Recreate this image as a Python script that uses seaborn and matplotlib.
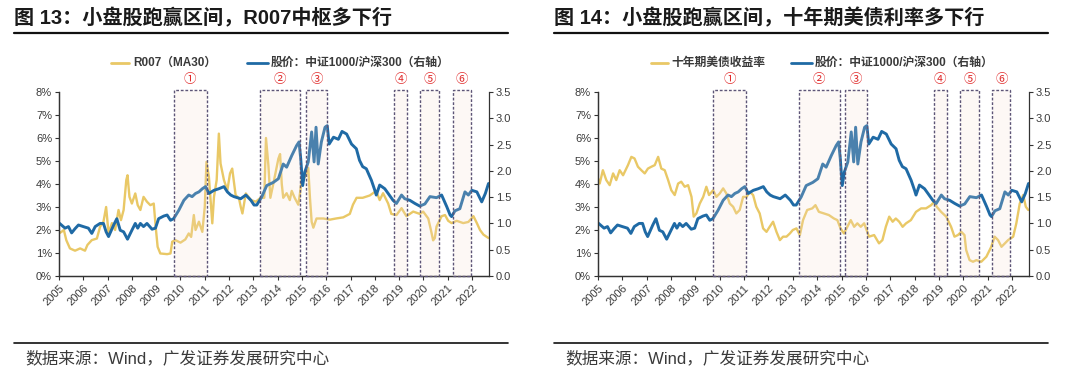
import numpy as np
import pandas as pd
import matplotlib
matplotlib.use("Agg")
import matplotlib.pyplot as plt
import seaborn as sns
from matplotlib.patches import Rectangle
from matplotlib.lines import Line2D

# ---------------- data ----------------
blue_years = [2005.00, 2005.10, 2005.25, 2005.39, 2005.52, 2005.66, 2005.80, 2006.00, 2006.21, 2006.35,
              2006.49, 2006.69, 2006.83, 2006.94, 2007.04, 2007.25, 2007.38, 2007.52, 2007.66, 2007.82,
              2008.00, 2008.14, 2008.24, 2008.35, 2008.48, 2008.62, 2008.83, 2008.97, 2009.10, 2009.31,
              2009.45, 2009.59, 2009.72, 2009.93, 2010.14, 2010.34, 2010.48, 2010.62, 2010.76, 2010.90,
              2011.03, 2011.17, 2011.38, 2011.58, 2011.79, 2011.93, 2012.07, 2012.20, 2012.48, 2012.69,
              2012.90, 2013.03, 2013.14, 2013.34, 2013.55, 2013.82, 2014.03, 2014.23, 2014.37, 2014.58,
              2014.78, 2014.88, 2014.95, 2015.03, 2015.12, 2015.26, 2015.40, 2015.50, 2015.58, 2015.67,
              2015.80, 2015.95, 2016.04, 2016.12, 2016.30, 2016.50, 2016.65, 2016.84, 2017.04, 2017.24,
              2017.37, 2017.50, 2017.65, 2017.86, 2018.00, 2018.06, 2018.20, 2018.41, 2018.55, 2018.75,
              2018.89, 2019.10, 2019.23, 2019.44, 2019.65, 2019.85, 2020.06, 2020.27, 2020.54, 2020.75,
              2020.96, 2021.10, 2021.16, 2021.30, 2021.50, 2021.71, 2021.85, 2021.99, 2022.20, 2022.40,
              2022.55, 2022.68]
blue_ratio = [1.01, 0.97, 0.91, 0.94, 0.82, 0.90, 0.97, 0.94, 0.91, 0.81,
              0.94, 1.00, 1.00, 0.84, 0.75, 0.97, 1.09, 0.87, 0.84, 0.70,
              0.87, 1.00, 0.91, 1.00, 0.94, 1.00, 0.89, 0.91, 1.09, 1.14,
              1.16, 1.06, 1.09, 1.25, 1.44, 1.54, 1.51, 1.57, 1.60, 1.66,
              1.70, 1.57, 1.63, 1.66, 1.70, 1.60, 1.54, 1.51, 1.47, 1.54,
              1.44, 1.35, 1.35, 1.50, 1.72, 1.78, 1.85, 2.13, 2.07, 2.29,
              2.48, 2.55, 2.23, 1.72, 1.98, 2.17, 2.74, 2.17, 2.83, 2.13,
              2.55, 2.83, 2.86, 2.51, 2.64, 2.60, 2.75, 2.70, 2.51, 2.42,
              2.20, 2.08, 2.04, 1.82, 1.63, 1.54, 1.73, 1.66, 1.57, 1.44,
              1.38, 1.54, 1.47, 1.44, 1.38, 1.33, 1.37, 1.51, 1.49, 1.54,
              1.32, 1.16, 1.13, 1.24, 1.28, 1.60, 1.54, 1.63, 1.60, 1.41,
              1.57, 1.76]

r007_years = [2005.00, 2005.10, 2005.20, 2005.30, 2005.45, 2005.66, 2005.87, 2006.07, 2006.17, 2006.35,
              2006.56, 2006.69, 2006.83, 2006.94, 2007.04, 2007.18, 2007.31, 2007.45, 2007.55, 2007.66,
              2007.77, 2007.82, 2007.90, 2008.00, 2008.14, 2008.24, 2008.35, 2008.48, 2008.62, 2008.76,
              2008.90, 2008.98, 2009.06, 2009.17, 2009.45, 2009.59, 2009.66, 2009.79, 2010.00, 2010.20,
              2010.34, 2010.44, 2010.55, 2010.62, 2010.76, 2010.90, 2011.00, 2011.07, 2011.17, 2011.24,
              2011.31, 2011.38, 2011.49, 2011.58, 2011.65, 2011.79, 2011.93, 2012.04, 2012.13, 2012.27,
              2012.41, 2012.48, 2012.55, 2012.69, 2012.90, 2013.10, 2013.30, 2013.45, 2013.52, 2013.62,
              2013.70, 2013.82, 2014.03, 2014.10, 2014.17, 2014.23, 2014.37, 2014.50, 2014.58, 2014.70,
              2014.85, 2014.92, 2015.00, 2015.12, 2015.26, 2015.33, 2015.40, 2015.47, 2015.60, 2015.88,
              2016.15, 2016.40, 2016.70, 2016.97, 2017.10, 2017.25, 2017.50, 2017.79, 2018.06, 2018.20,
              2018.34, 2018.55, 2018.68, 2018.89, 2019.10, 2019.30, 2019.58, 2019.85, 2019.99, 2020.20,
              2020.33, 2020.40, 2020.47, 2020.54, 2020.75, 2020.89, 2021.02, 2021.16, 2021.37, 2021.64,
              2021.85, 2022.06, 2022.20, 2022.33, 2022.47, 2022.68]
r007_pct = [1.85, 1.92, 2.00, 1.56, 1.20, 1.10, 1.20, 1.10, 1.35, 1.56,
            1.63, 2.14, 2.36, 3.00, 1.85, 2.30, 2.00, 2.87, 2.43, 2.87,
            4.17, 4.38, 3.44, 3.15, 3.59, 3.08, 2.87, 3.44, 3.23, 3.08,
            3.15, 2.14, 1.27, 0.98, 0.95, 0.98, 1.49, 1.56, 1.45, 1.59,
            1.85, 1.70, 2.65, 2.00, 2.36, 1.92, 3.00, 4.96, 4.31, 3.30,
            2.29, 3.44, 4.17, 6.19, 4.89, 4.17, 3.73, 4.46, 4.67, 3.52,
            3.37, 3.01, 2.72, 3.59, 3.30, 3.23, 3.40, 3.40, 6.00, 4.80,
            3.40, 4.00, 5.10, 5.30, 4.00, 3.40, 3.60, 3.30, 3.70, 3.40,
            3.10, 3.60, 4.30, 4.30, 4.70, 3.40, 2.36, 2.10, 2.50, 2.50,
            2.45, 2.50, 2.55, 2.70, 3.10, 3.40, 3.40, 3.50, 3.70, 3.30,
            3.60, 3.15, 2.70, 2.65, 2.95, 2.60, 2.80, 2.70, 2.80, 2.50,
            1.90, 1.55, 1.65, 2.15, 2.60, 2.65, 2.40, 2.30, 2.40, 2.30,
            2.35, 2.60, 2.30, 2.00, 1.80, 1.65]

ust_years = [2005.00, 2005.07, 2005.20, 2005.34, 2005.48, 2005.62, 2005.75, 2005.89, 2006.03, 2006.23,
             2006.37, 2006.50, 2006.64, 2006.78, 2006.92, 2007.05, 2007.19, 2007.33, 2007.47, 2007.60,
             2007.74, 2007.88, 2008.01, 2008.15, 2008.29, 2008.42, 2008.56, 2008.70, 2008.84, 2008.93,
             2009.04, 2009.18, 2009.32, 2009.45, 2009.56, 2009.73, 2009.86, 2010.00, 2010.14, 2010.27,
             2010.41, 2010.55, 2010.68, 2010.82, 2010.96, 2011.10, 2011.23, 2011.37, 2011.50, 2011.64,
             2011.78, 2011.92, 2012.05, 2012.19, 2012.33, 2012.47, 2012.60, 2012.74, 2012.88, 2013.00,
             2013.15, 2013.29, 2013.42, 2013.59, 2013.80, 2013.93, 2014.07, 2014.28, 2014.48, 2014.69,
             2014.83, 2014.96, 2015.10, 2015.24, 2015.38, 2015.52, 2015.65, 2015.79, 2015.93, 2016.13,
             2016.34, 2016.54, 2016.68, 2016.82, 2016.96, 2017.10, 2017.23, 2017.37, 2017.51, 2017.65,
             2017.85, 2018.06, 2018.27, 2018.47, 2018.68, 2018.81, 2018.91, 2019.09, 2019.30, 2019.50,
             2019.64, 2019.78, 2019.92, 2020.05, 2020.12, 2020.26, 2020.40, 2020.54, 2020.74, 2020.95,
             2021.15, 2021.29, 2021.43, 2021.57, 2021.71, 2021.84, 2022.05, 2022.18, 2022.32, 2022.46,
             2022.57, 2022.67]
ust_pct = [4.24, 4.02, 4.60, 4.17, 3.95, 4.46, 4.17, 4.60, 4.38, 4.82,
           5.18, 5.11, 4.75, 4.60, 4.46, 4.67, 4.75, 4.82, 5.18, 4.67,
           4.60, 4.17, 3.73, 3.52, 4.02, 4.10, 3.88, 3.95, 3.44, 2.58,
           2.72, 3.15, 3.44, 3.88, 3.52, 3.73, 3.44, 3.59, 3.81, 3.59,
           3.15, 3.01, 2.72, 2.87, 3.44, 3.44, 3.66, 3.52, 3.01, 2.72,
           2.07, 1.92, 2.14, 2.36, 1.92, 1.56, 1.71, 1.71, 1.85, 2.00,
           2.07, 1.78, 2.43, 2.87, 2.94, 3.08, 2.79, 2.72, 2.65, 2.50,
           2.43, 2.07, 1.85, 2.14, 2.43, 2.14, 2.29, 2.14, 2.29, 1.71,
           1.78, 1.42, 1.56, 2.14, 2.58, 2.36, 2.50, 2.36, 2.14, 2.29,
           2.43, 2.79, 2.94, 2.94, 3.08, 3.23, 3.01, 2.79, 2.58, 2.14,
           1.71, 1.78, 1.92, 1.78, 1.13, 0.69, 0.62, 0.69, 0.62, 0.84,
           1.27, 1.71, 1.56, 1.27, 1.42, 1.56, 1.71, 2.29, 3.15, 3.52,
           3.01, 2.87]

box_starts = [2009.72, 2013.26, 2015.15, 2018.78, 2019.88, 2021.20]
box_ends = [2011.08, 2014.92, 2016.05, 2019.33, 2020.63, 2021.94]
box_labels = ["①", "②", "③", "④", "⑤", "⑥"]

year_ticks = list(range(2005, 2023))
year_labels = [str(y) for y in year_ticks]
left_ticks = [0, 1, 2, 3, 4, 5, 6, 7, 8]
right_ticks = [0.0, 0.5, 1.0, 1.5, 2.0, 2.5, 3.0, 3.5]

titles = ["图 13：小盘股跑赢区间，R007中枢多下行",
          "图 14：小盘股跑赢区间，十年期美债利率多下行"]
yellow_names = ["R007（MA30）", "十年期美债收益率"]
blue_name = "股价：中证1000/沪深300（右轴）"
source_text = "数据来源：Wind，广发证券发展研究中心"

# ---------------- style ----------------
sns.set_theme(style="ticks")
FONTS = ['Liberation Sans', 'Noto Sans CJK SC', 'DejaVu Sans']
plt.rcParams['font.family'] = FONTS

YEL = '#E9C866'
BLUE = '#1F6AA5'
AXC = '#333333'
TXT = '#3a3a3a'

W, H = 1080, 374
fig = plt.figure(figsize=(W / 100, H / 100), dpi=100)
fig.patch.set_facecolor('white')


def fx(px):
    return px / W


def fy(py):
    return 1 - py / H


def panel(ox, ax_left, ax_right, title, yx, yv, yname, leg):
    # header
    fig.text(fx(ox + 14), fy(18), title, fontsize=14.5, fontweight='bold', color='#1a1a1a',
             ha='left', va='center', family=FONTS)
    fig.add_artist(Line2D([fx(ox + 14), fx(ox + 508)], [fy(33), fy(33)], color='#111111', lw=1.6))
    fig.add_artist(Line2D([fx(ox + 14), fx(ox + 508)], [fy(343), fy(343)], color='#111111', lw=1.2))
    fig.text(fx(ox + 25), fy(358), source_text, fontsize=12, color=TXT, ha='left', va='center',
             family=FONTS)

    ax = fig.add_axes([fx(ax_left), fy(276), fx(ax_right) - fx(ax_left), (276 - 92) / H])
    df_y = pd.DataFrame({"year": yx, "val": yv})
    sns.lineplot(data=df_y, x="year", y="val", ax=ax, color=YEL, lw=1.7, legend=False)
    ax.set_ylim(0, 8)
    ax.set_xlim(2005, 2022.7)
    ax.set_yticks(left_ticks)
    ax.set_yticklabels([f"{v}%" for v in left_ticks])
    ax.set_xticks(year_ticks)
    ax.set_xticklabels(year_labels, rotation=45, ha='right', rotation_mode='anchor')
    ax.set_xlabel('')
    ax.set_ylabel('')

    ax2 = ax.twinx()
    df_b = pd.DataFrame({"year": blue_years, "val": blue_ratio})
    sns.lineplot(data=df_b, x="year", y="val", ax=ax2, color=BLUE, lw=2.1, legend=False)
    ax2.set_ylim(0, 3.5)
    ax2.set_xlim(2005, 2022.7)
    ax2.set_yticks(right_ticks)
    ax2.set_yticklabels([f"{v:.1f}" for v in right_ticks])
    ax2.set_ylabel('')
    ax2.set_xlabel('')

    for a in (ax, ax2):
        a.set_facecolor('none')
        a.spines['top'].set_visible(False)
        for s in a.spines.values():
            s.set_color(AXC)
            s.set_linewidth(0.9)
    ax.spines['right'].set_visible(False)
    ax.tick_params(axis='y', direction='out', length=3, width=0.8, color=AXC,
                   labelsize=8, labelcolor=TXT, pad=2, left=True)
    ax.tick_params(axis='x', direction='out', length=3, width=0.8, color=AXC,
                   labelsize=8, labelcolor=TXT, pad=2, bottom=True)
    ax2.tick_params(axis='y', direction='out', length=3, width=0.8, color=AXC,
                    labelsize=8, labelcolor=TXT, pad=2, right=True)
    ax.grid(False)
    ax2.grid(False)

    # shaded intervals with dashed frames
    trans = ax2.get_xaxis_transform()
    for s, e, lab in zip(box_starts, box_ends, box_labels):
        ax2.add_patch(Rectangle((s, 0), e - s, 1.012, transform=trans,
                                facecolor=(0.97, 0.88, 0.82, 0.2), edgecolor='#5d5577',
                                lw=1.0, ls=(0, (2.0, 1.3)), zorder=5, clip_on=False))
        ax2.text((s + e) / 2, (276 - 80) / 184, lab, transform=trans, ha='center', va='center',
                 color='#E02A2A', fontsize=9, family=['Noto Sans CJK SC', 'DejaVu Sans'])

    # legend (manual)
    (y1, y2, yt), (b1, b2, bt) = leg
    fig.add_artist(Line2D([fx(ox + y1), fx(ox + y2)], [fy(63), fy(63)], color=YEL, lw=2))
    fig.text(fx(ox + yt), fy(63), yname, fontsize=8.5, fontweight='bold', color=TXT,
             ha='left', va='center', family=FONTS)
    fig.add_artist(Line2D([fx(ox + b1), fx(ox + b2)], [fy(63), fy(63)], color=BLUE, lw=2))
    fig.text(fx(ox + bt), fy(63), blue_name, fontsize=8.5, fontweight='bold', color=TXT,
             ha='left', va='center', family=FONTS)


panel(0, 59, 489, titles[0], r007_years, r007_pct, yellow_names[0],
      ((111, 129, 133), (247, 268, 271)))
panel(540, 598, 1029, titles[1], ust_years, ust_pct, yellow_names[1],
      ((111, 128, 131), (251, 272, 275)))

fig.savefig("out.png", dpi=100, facecolor='white')
